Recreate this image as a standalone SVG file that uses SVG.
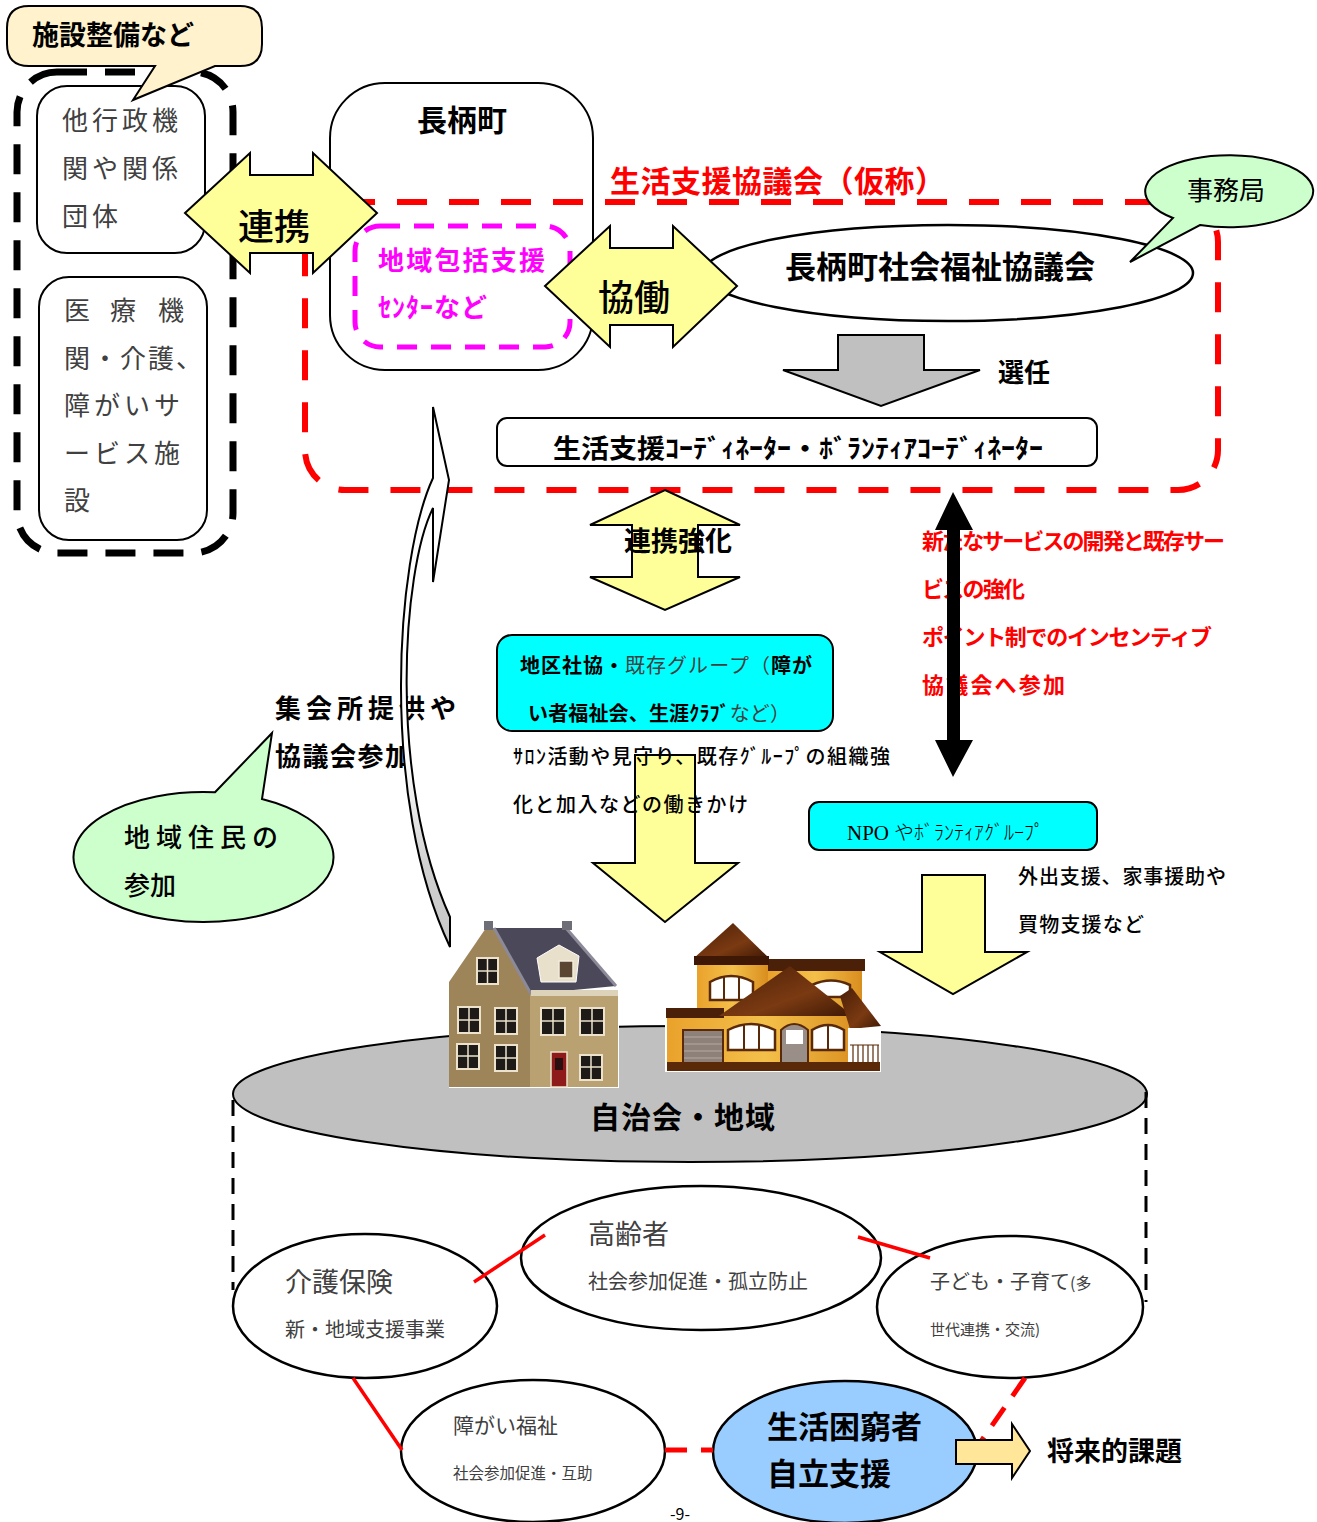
<svg xmlns="http://www.w3.org/2000/svg" width="1317" height="1522" viewBox="0 0 1317 1522">
  <defs>
    <style>
      text { font-family: "Noto Sans CJK JP", "Noto Sans", sans-serif; fill: #000; }
      .b { font-weight: 700; }
      .m { font-weight: 500; }
      .g { fill: #404040; font-weight: 400; }
      .red { fill: #FF0000; font-weight: 700; }
      .mag { fill: #FF00FF; font-weight: 700; }
      .box { fill: #FFFFFF; stroke: #000; stroke-width: 2; }
      .yarrow { fill: #FFFF99; stroke: #000; stroke-width: 2; stroke-linejoin: miter; }
      .cyan { fill: #00FFFF; stroke: #000; stroke-width: 2; }
      .green { fill: #CCFFCC; stroke: #000; stroke-width: 2; }
      .oval { fill: #FFFFFF; stroke: #000; stroke-width: 2.5; }
      .redline { stroke: #FF0000; stroke-width: 3.5; fill: none; }
      .reddash { stroke: #FF0000; stroke-width: 5; fill: none; stroke-dasharray: 22 14; }
      .win { fill: #1E1A18; stroke: #EDE3CC; stroke-width: 2; }
      .winw { fill: #FFFFFF; stroke: #5A2A08; stroke-width: 2.5; }
    </style>
    <linearGradient id="curveFill" x1="0" y1="1" x2="0" y2="0">
      <stop offset="0" stop-color="#C8C8C8"/>
      <stop offset="0.15" stop-color="#D0D0D0"/>
      <stop offset="0.35" stop-color="#FFFFFF"/>
    </linearGradient>
    <linearGradient id="roofBrown" x1="0" y1="0" x2="1" y2="1">
      <stop offset="0" stop-color="#4A1E06"/>
      <stop offset="0.6" stop-color="#7A3A12"/>
      <stop offset="1" stop-color="#3E1804"/>
    </linearGradient>
    <linearGradient id="wallOrange" x1="0" y1="0" x2="1" y2="0">
      <stop offset="0" stop-color="#E9A22C"/>
      <stop offset="0.5" stop-color="#F4C04A"/>
      <stop offset="1" stop-color="#D98E1E"/>
    </linearGradient>
  </defs>

  <rect width="1317" height="1522" fill="#FFFFFF"/>

  <!-- outside organisations -->
  <g id="outside-group">
    <rect x="17" y="72" width="216" height="481" rx="40" fill="none" stroke="#000" stroke-width="7" stroke-dasharray="30 18"/>
  </g>
  <g id="other-agencies">
    <rect class="box" x="37" y="86" width="168" height="167" rx="30"/>
    <text class="g" x="62" y="130" font-size="26" letter-spacing="4">他行政機</text>
    <text class="g" x="62" y="178" font-size="26" letter-spacing="4">関や関係</text>
    <text class="g" x="62" y="226" font-size="26" letter-spacing="4">団体</text>
  </g>
  <g id="medical-facilities">
    <rect class="box" x="39" y="277" width="168" height="263" rx="30"/>
    <text class="g" x="64" y="320" font-size="26">医</text>
    <text class="g" x="110" y="320" font-size="26">療</text>
    <text class="g" x="158" y="320" font-size="26">機</text>
    <text class="g" x="64" y="368" font-size="26" letter-spacing="2">関・介護、</text>
    <text class="g" x="64" y="415" font-size="26" letter-spacing="4">障がいサ</text>
    <text class="g" x="64" y="463" font-size="26" letter-spacing="4">ービス施</text>
    <text class="g" x="64" y="510" font-size="26">設</text>
  </g>
  <g id="callout-facilities">
    <path d="M29,6 H240 Q262,6 262,28 V44 Q262,66 240,66 H215 L133,100 L155,66 H29 Q7,66 7,44 V28 Q7,6 29,6 Z" fill="#FFF2CC" stroke="#000" stroke-width="2"/>
    <text class="b" x="32" y="45" font-size="27">施設整備など</text>
  </g>

  <!-- town -->
  <g id="nagara-town">
    <rect class="box" x="330" y="83" width="263" height="287" rx="55"/>
    <text class="b" x="462" y="131" font-size="30" text-anchor="middle">長柄町</text>
  </g>

  <!-- council boundary -->
  <g id="support-council">
    <rect x="305" y="202" width="913" height="288" rx="40" fill="none" stroke="#FF0000" stroke-width="6" stroke-dasharray="30 22"/>
    <text class="red" x="610" y="192" font-size="30" textLength="335">生活支援協議会（仮称）</text>
  </g>

  <g id="regional-center">
    <rect x="355" y="226" width="215" height="121" rx="25" fill="none" stroke="#FF00FF" stroke-width="5" stroke-dasharray="20 14"/>
    <text class="mag" x="378" y="270" font-size="26" textLength="167">地域包括支援</text>
    <text class="mag" x="378" y="317" font-size="26" textLength="109">ｾﾝﾀｰなど</text>
  </g>

  <g id="social-welfare-council">
    <ellipse class="oval" cx="948" cy="273" rx="245" ry="48" stroke-width="2"/>
    <text class="b" x="940" y="278" font-size="31" text-anchor="middle">長柄町社会福祉協議会</text>
  </g>

  <g id="callout-office">
    <path d="M1200,225 A84 36 0 1 0 1173,218 L1130,262 Z" class="green"/>
    <text x="1226" y="200" font-size="26" text-anchor="middle">事務局</text>
  </g>

  <g id="coordinator">
    <rect class="box" x="497" y="418" width="600" height="48" rx="10"/>
    <text class="b" x="553" y="458" font-size="26" textLength="490" lengthAdjust="spacingAndGlyphs">生活支援ｺｰﾃﾞｨﾈｰﾀｰ・ﾎﾞﾗﾝﾃｨｱｺｰﾃﾞｨﾈｰﾀｰ</text>
  </g>

  <g id="district-groups">
    <rect class="cyan" x="497" y="635" width="336" height="96" rx="15"/>
    <text x="520" y="673" font-size="20" textLength="292"><tspan class="b">地区社協・</tspan><tspan class="g" font-weight="300">既存グループ（</tspan><tspan class="b">障が</tspan></text>
    <text x="528" y="721" font-size="20" textLength="262"><tspan class="b">い者福祉会、生涯ｸﾗﾌﾞ</tspan><tspan class="g" font-weight="300">など）</tspan></text>
  </g>

  <g id="npo-groups">
    <rect class="cyan" x="809" y="802" width="288" height="48" rx="10"/>
    <text x="847" y="840" font-size="20" fill="#222"><tspan font-family="'Liberation Serif', serif" font-size="21">NPO</tspan><tspan dx="5" font-weight="300">やﾎﾞﾗﾝﾃｨｱｸﾞﾙｰﾌﾟ</tspan></text>
  </g>

  <g id="residents-callout">
    <path d="M215,792.3 L272,733 L262,799 A130 65 0 1 1 215,792.3 Z" class="green"/>
    <text x="124" y="847" font-size="26" letter-spacing="6" font-weight="500">地域住民の</text>
    <text x="124" y="895" font-size="26" font-weight="500">参加</text>
  </g>

  <!-- neighbourhood -->
  <g id="neighbourhood">
    <ellipse cx="690" cy="1094" rx="457" ry="68" fill="#C0C0C0" stroke="#000" stroke-width="2"/>
    <path d="M233,1100 V1290 M1146,1092 V1302" stroke="#000" stroke-width="3" stroke-dasharray="16 10" fill="none"/>

    <!-- tall brick house -->
    <g id="house-brick">
      <rect x="449" y="920" width="170" height="168" fill="#FFFFFF"/>
      <polygon points="449,982 486,928 495,928 531,994 531,1087 449,1087" fill="#9E8459"/>
      <rect x="530" y="993" width="88" height="94" fill="#B9A172"/>
      <polygon points="494,928 566,928 616,986 531,994" fill="#4B4959"/>
      <polyline points="494,928 531,994" stroke="#8C8A98" stroke-width="3" fill="none"/>
      <polyline points="566,928 616,986" stroke="#8C8A98" stroke-width="3" fill="none"/>
      <rect x="531" y="990" width="87" height="6" fill="#DDD2BA"/>
      <rect x="484" y="921" width="9" height="9" fill="#6E6E76"/>
      <rect x="562" y="921" width="10" height="9" fill="#6E6E76"/>
      <polygon points="537,958 559,945 579,956 576,982 541,982" fill="#E9E0CC" stroke="#FFFFFF" stroke-width="1"/>
      <rect x="559" y="961" width="14" height="17" fill="#5A4632" stroke="#F2EBDC" stroke-width="1.5"/>
      <g>
        <rect class="win" x="477" y="958" width="21" height="26"/>
        <rect class="win" x="458" y="1007" width="22" height="26"/>
        <rect class="win" x="495" y="1008" width="22" height="26"/>
        <rect class="win" x="457" y="1044" width="22" height="25"/>
        <rect class="win" x="495" y="1045" width="22" height="26"/>
        <rect class="win" x="541" y="1008" width="24" height="27"/>
        <rect class="win" x="580" y="1008" width="24" height="27"/>
        <rect class="win" x="580" y="1055" width="22" height="25"/>
        <path d="M487.5,958 V984 M477,971 H498 M469,1007 V1033 M458,1020 H480 M506,1008 V1034 M495,1021 H517 M468,1044 V1069 M457,1056 H479 M506,1045 V1071 M495,1058 H517 M553,1008 V1035 M541,1021 H565 M592,1008 V1035 M580,1021 H604 M591,1055 V1080 M580,1067 H602" stroke="#EDE3CC" stroke-width="1.5"/>
      </g>
      <rect x="551" y="1052" width="16" height="35" fill="#8E1A1A" stroke="#EDE3CC" stroke-width="1.5"/>
      <rect x="555" y="1058" width="8" height="12" fill="#2A1010"/>
    </g>

    <!-- orange house -->
    <g id="house-orange">
      <rect x="665" y="920" width="216" height="152" fill="#FFFFFF"/>
      <rect x="697" y="960" width="71" height="60" fill="url(#wallOrange)"/>
      <rect x="768" y="968" width="94" height="50" fill="url(#wallOrange)"/>
      <rect x="768" y="959" width="97" height="12" fill="#4A2008"/>
      <polygon points="694,958 733,923 769,958" fill="url(#roofBrown)"/>
      <rect x="694" y="956" width="75" height="9" fill="#3E1804"/>
      <path d="M710,1000 V982 Q731,970 753,982 V1000 Z" class="winw"/>
      <path d="M724,976 V1000 M739,976 V1000" stroke="#5A2A08" stroke-width="2"/>
      <path d="M812,997 V985 Q831,976 850,985 V997 Z" class="winw"/>
      <rect x="667" y="1015" width="195" height="50" fill="url(#wallOrange)"/>
      <rect x="666" y="1008" width="58" height="10" fill="#4A2008"/>
      <polygon points="719,1016 790,966 853,1016" fill="url(#roofBrown)"/>
      <polygon points="840,996 852,988 881,1026 850,1029" fill="url(#roofBrown)"/>
      <rect x="848" y="1028" width="32" height="38" fill="#FFFFFF"/>
      <path d="M850,1045 H879 M853,1045 V1064 M858,1045 V1064 M863,1045 V1064 M868,1045 V1064 M873,1045 V1064 M878,1045 V1064" stroke="#5A2A08" stroke-width="1.2"/>
      <rect x="683" y="1030" width="40" height="40" fill="#8E817A" stroke="#5A2A08" stroke-width="2"/>
      <path d="M684,1037 H722 M684,1044 H722 M684,1051 H722 M684,1058 H722 M684,1065 H722" stroke="#A89C95" stroke-width="1.5"/>
      <path d="M728,1050 V1030 Q751,1018 775,1030 V1050 Z" class="winw"/>
      <path d="M744,1025 V1050 M759,1025 V1050" stroke="#5A2A08" stroke-width="2"/>
      <path d="M812,1050 V1030 Q828,1020 844,1030 V1050 Z" class="winw"/>
      <path d="M828,1024 V1050" stroke="#5A2A08" stroke-width="2"/>
      <path d="M781,1070 V1030 Q794,1018 808,1030 V1070 Z" fill="#9A8E88" stroke="#5A2A08" stroke-width="2"/>
      <rect x="786" y="1030" width="17" height="14" fill="#FFFFFF"/>
      <rect x="667" y="1062" width="213" height="9" fill="#5A2A08"/>
    </g>
    <text class="b" x="683" y="1128" font-size="30" text-anchor="middle" letter-spacing="1">自治会・地域</text>
  </g>

  <!-- service fields -->
  <g id="care-insurance">
    <ellipse class="oval" cx="365" cy="1306" rx="132" ry="72"/>
    <text class="g" x="285" y="1292" font-size="27" font-weight="300">介護保険</text>
    <text class="g" x="285" y="1337" font-size="20" font-weight="300">新・地域支援事業</text>
  </g>
  <g id="elderly">
    <ellipse class="oval" cx="701" cy="1258" rx="180" ry="72"/>
    <text class="g" x="588" y="1244" font-size="27" font-weight="300">高齢者</text>
    <text class="g" x="588" y="1289" font-size="20" font-weight="300">社会参加促進・孤立防止</text>
  </g>
  <g id="children">
    <ellipse class="oval" cx="1010" cy="1307" rx="133" ry="71"/>
    <text class="g" x="930" y="1289" font-size="20" font-weight="300">子ども・子育て<tspan font-size="16">(多</tspan></text>
    <text class="g" x="930" y="1335" font-size="15" font-weight="300">世代連携・交流)</text>
  </g>
  <g id="disability">
    <ellipse class="oval" cx="533" cy="1451" rx="132" ry="71"/>
    <text class="g" x="453" y="1433" font-size="21" font-weight="300">障がい福祉</text>
    <text class="g" x="453" y="1479" font-size="15.5" font-weight="300">社会参加促進・互助</text>
  </g>
  <g id="self-reliance">
    <ellipse cx="845" cy="1452" rx="132" ry="71" fill="#99CCFF" stroke="#000" stroke-width="2.5"/>
    <text class="b" x="767" y="1438" font-size="31">生活困窮者</text>
    <text class="b" x="767" y="1485" font-size="31">自立支援</text>
  </g>
  <text x="680" y="1520" font-size="16" text-anchor="middle" font-family="'Liberation Serif', serif">-9-</text>

  <!-- connectors and their labels -->
  <g id="connectors">
    <polygon class="yarrow" points="185,213 250,153 250,175 313,175 313,153 377,213 313,273 313,253 250,253 250,273"/>
    <text x="274" y="240" font-size="36" text-anchor="middle" font-weight="500">連携</text>

    <polygon class="yarrow" points="545,286 610,226 610,248 673,248 673,226 737,286 673,347 673,325 610,325 610,347"/>
    <text x="634" y="311" font-size="36" text-anchor="middle" font-weight="500">協働</text>

    <polygon points="838,335 924,335 924,370 980,370 881,406 783,370 838,370" fill="#C0C0C0" stroke="#000" stroke-width="2"/>
    <text class="b" x="998" y="382" font-size="26">選任</text>

    <polygon class="yarrow" points="665,490 740,525 698,525 698,577 740,577 665,610 590,577 632,577 632,525 590,525"/>
    <text class="b" x="678" y="551" font-size="27" text-anchor="middle">連携強化</text>

    <text class="red" x="922" y="549" font-size="22" textLength="303">新たなサービスの開発と既存サー</text>
    <text class="red" x="922" y="597" font-size="22" textLength="103">ビスの強化</text>
    <text class="red" x="922" y="645" font-size="22" textLength="290">ポイント制でのインセンティブ</text>
    <text class="red" x="922" y="693" font-size="22" textLength="143">協議会へ参加</text>
    <polygon points="953,492 973,530 960,530 960,740 973,740 953,777 935,740 947,740 947,530 935,530" fill="#000"/>

    <polygon class="yarrow" points="635,755 695,755 695,863 738,863 665,922 593,863 635,863"/>
    <text class="m" x="513" y="764" font-size="20" textLength="377">ｻﾛﾝ活動や見守り、既存ｸﾞﾙｰﾌﾟの組織強</text>
    <text class="m" x="513" y="812" font-size="20" textLength="235">化と加入などの働きかけ</text>

    <polygon class="yarrow" points="922,875 985,875 985,952 1027,952 953,994 880,952 922,952"/>
    <text class="m" x="1018" y="884" font-size="20" textLength="208">外出支援、家事援助や</text>
    <text class="m" x="1018" y="932" font-size="20" textLength="126">買物支援など</text>

    <text class="b" x="275" y="718" font-size="26" letter-spacing="5">集会所提供や</text>
    <text class="b" x="275" y="766" font-size="26" letter-spacing="1.5">協議会参加</text>
    <path d="M433,407 L449,480 L433,582 L433,508 C402,570 388,780 450,917 L450,947 C380,800 395,560 433,478 Z" fill="url(#curveFill)" stroke="#000" stroke-width="2" stroke-linejoin="miter"/>

    <line class="redline" x1="474" y1="1282" x2="545" y2="1235"/>
    <line class="redline" x1="858" y1="1237" x2="930" y2="1258"/>
    <line class="redline" x1="353" y1="1378" x2="402" y2="1450"/>
    <line class="reddash" x1="665" y1="1450" x2="713" y2="1450"/>
    <line class="reddash" x1="1025" y1="1378" x2="975" y2="1450"/>

    <polygon points="956,1440 1012,1440 1012,1424 1030,1451 1012,1478 1012,1464 956,1464" fill="#FFE699" stroke="#000" stroke-width="2"/>
    <text class="b" x="1047" y="1461" font-size="27">将来的課題</text>
  </g>
</svg>
